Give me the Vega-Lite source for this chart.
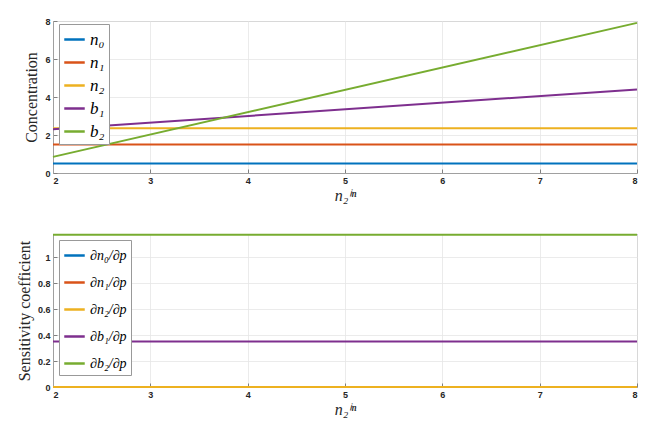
{
  "$schema": "https://vega.github.io/schema/vega-lite/v6.json",
  "background": "white",
  "padding": {"left": 15, "top": 16, "right": 20, "bottom": 5},
  "spacing": 26,
  "datasets": {
    "conc": [
      {"x": 2, "y": 0.5, "s": "n₀"}, {"x": 8, "y": 0.5, "s": "n₀"},
      {"x": 2, "y": 1.5, "s": "n₁"}, {"x": 8, "y": 1.5, "s": "n₁"},
      {"x": 2, "y": 2.35, "s": "n₂"}, {"x": 8, "y": 2.35, "s": "n₂"},
      {"x": 2, "y": 2.3, "s": "b₁"}, {"x": 8, "y": 4.4, "s": "b₁"},
      {"x": 2, "y": 0.85, "s": "b₂"}, {"x": 8, "y": 7.9, "s": "b₂"}
    ],
    "sens": [
      {"x": 2, "y": 0, "s": "∂n₀/∂p"}, {"x": 8, "y": 0, "s": "∂n₀/∂p"},
      {"x": 2, "y": 0, "s": "∂n₁/∂p"}, {"x": 8, "y": 0, "s": "∂n₁/∂p"},
      {"x": 2, "y": 0, "s": "∂n₂/∂p"}, {"x": 8, "y": 0, "s": "∂n₂/∂p"},
      {"x": 2, "y": 0.35, "s": "∂b₁/∂p"}, {"x": 8, "y": 0.35, "s": "∂b₁/∂p"},
      {"x": 2, "y": 1.175, "s": "∂b₂/∂p"}, {"x": 8, "y": 1.175, "s": "∂b₂/∂p"}
    ]
  },
  "config": {
    "view": {"stroke": "#a0a0a0", "strokeWidth": 1},
    "axis": {
      "labelFont": "Liberation Sans", "labelFontSize": 9, "labelFontWeight": "bold", "labelColor": "#262626",
      "titleFont": "Liberation Serif", "titleFontSize": 16, "titleFontWeight": "normal", "titleColor": "#262626",
      "gridColor": "#e6e6e6", "gridWidth": 0.8, "domainColor": "#a0a0a0", "tickColor": "#808080",
      "tickSize": -4, "labelPadding": 7, "format": "~g"
    },
    "legend": {
      "labelFont": "Liberation Serif", "labelFontStyle": "italic", "labelFontSize": 17, "labelColor": "#000000",
      "symbolType": "stroke", "symbolStrokeWidth": 2.5, "symbolSize": 420,
      "strokeColor": "#999999", "fillColor": "white", "padding": 4, "orient": "none"
    }
  },
  "vconcat": [
    {
      "width": 584, "height": 152,
      "data": {"name": "conc"},
      "mark": {"type": "line", "strokeWidth": 2},
      "encoding": {
        "x": {"field": "x", "type": "quantitative", "scale": {"domain": [2, 8], "nice": false},
              "axis": {"values": [2,3,4,5,6,7,8], "title": "n₂ⁱⁿ", "titleFontStyle": "italic", "titleFontSize": 16, "titlePadding": 2}},
        "y": {"field": "y", "type": "quantitative", "scale": {"domain": [0, 8], "nice": false},
              "axis": {"values": [0,2,4,6,8], "title": "Concentration", "titlePadding": 5}},
        "color": {"field": "s", "type": "nominal",
                  "scale": {"domain": ["n₀","n₁","n₂","b₁","b₂"], "range": ["#0072BD","#D95319","#EDB120","#7E2F8E","#77AC30"]},
                  "legend": {"title": null, "legendX": 6, "legendY": 3, "rowPadding": 3}}
      }
    },
    {
      "width": 584, "height": 153,
      "data": {"name": "sens"},
      "mark": {"type": "line", "strokeWidth": 2},
      "encoding": {
        "x": {"field": "x", "type": "quantitative", "scale": {"domain": [2, 8], "nice": false},
              "axis": {"values": [2,3,4,5,6,7,8], "title": "n₂ⁱⁿ", "titleFontStyle": "italic", "titleFontSize": 16, "titlePadding": 2}},
        "y": {"field": "y", "type": "quantitative", "scale": {"domain": [0, 1.18], "nice": false},
              "axis": {"values": [0,0.2,0.4,0.6,0.8,1], "title": "Sensitivity coefficient", "titlePadding": 5}},
        "color": {"field": "s", "type": "nominal",
                  "scale": {"domain": ["∂n₀/∂p","∂n₁/∂p","∂n₂/∂p","∂b₁/∂p","∂b₂/∂p"], "range": ["#0072BD","#D95319","#EDB120","#7E2F8E","#77AC30"]},
                  "legend": {"title": null, "legendX": 6, "legendY": 6, "labelFontSize": 14, "rowPadding": 8}}
      }
    }
  ],
  "resolve": {"scale": {"color": "independent"}, "legend": {"color": "independent"}}
}
